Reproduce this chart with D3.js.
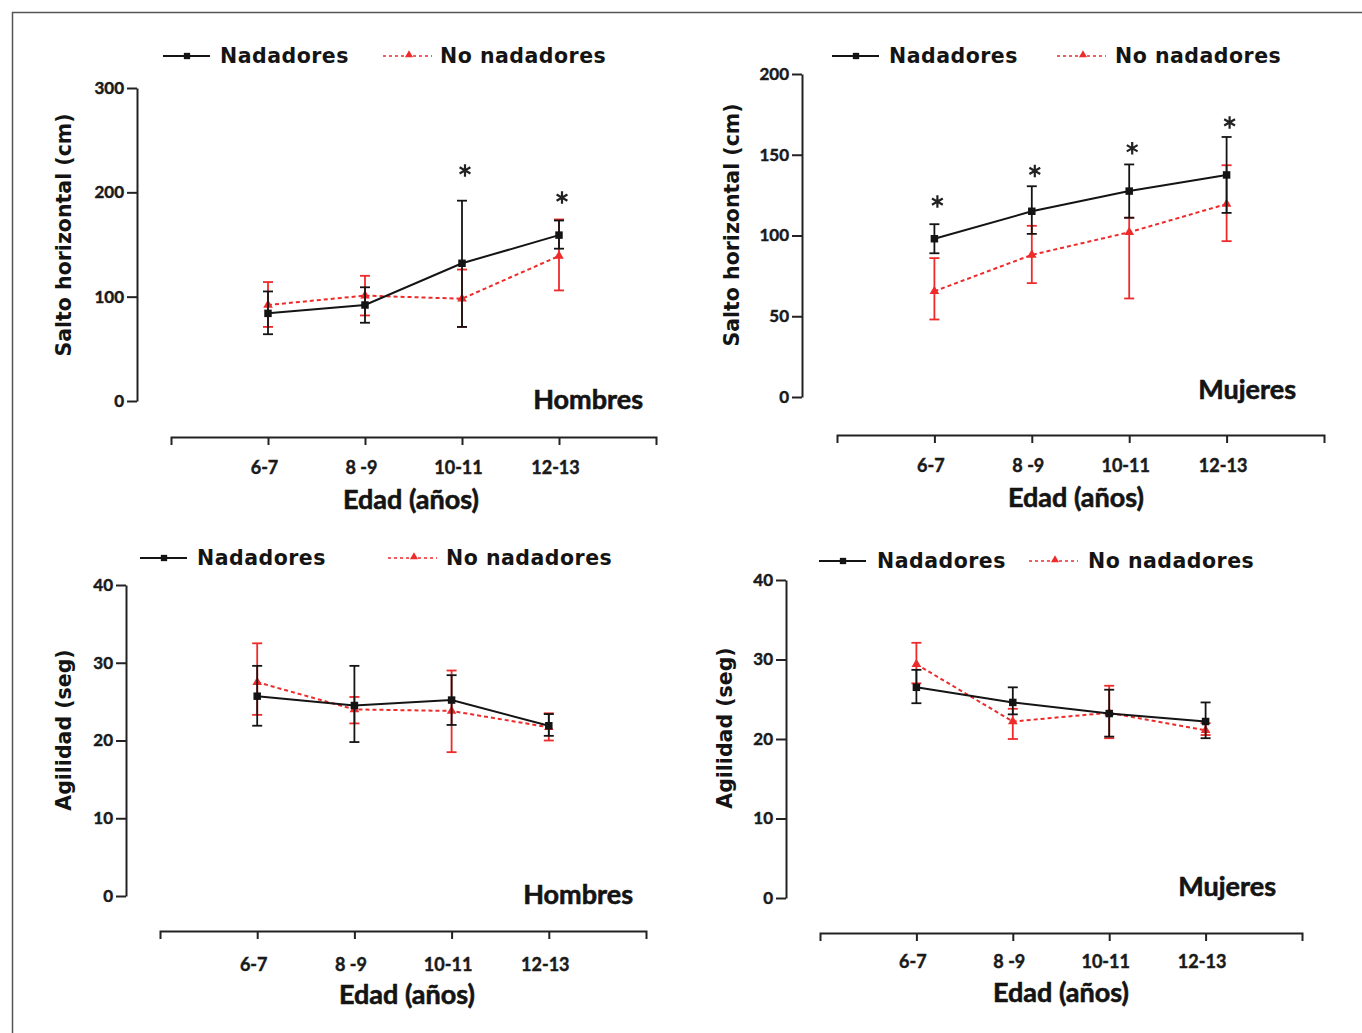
<!DOCTYPE html>
<html>
<head>
<meta charset="utf-8">
<script src="https://cdn.jsdelivr.net/npm/d3@7/dist/d3.min.js"></script>
<style>
  body { margin: 0; background: #fff; }
  svg { display: block; }
  .tick text { font-family: Lato, "Liberation Sans", sans-serif; font-weight: bold; fill: #1a1a1a; stroke: #1a1a1a; stroke-width: 0.45px; }
  .heavy { stroke: #141414; stroke-width: 0.6px; }
</style>
</head>
<body>
<svg id="chart" width="1362" height="1033"></svg>
<script>
// categories and ticks
var cats = ['6-7', '8 -9', '10-11', '12-13'];
var saltoTicksH = [0, 100, 200, 300];
var saltoTicksM = [0, 50, 100, 150, 200];
var agilTicks = [0, 10, 20, 30, 40];

// Salto horizontal, hombres
var saltoHNad = [84, 92, 132, 159];
var saltoHNadLo = [64, 75, 71, 146];
var saltoHNadHi = [105, 109, 192, 173];
var saltoHNo = [92, 101, 98, 139];
var saltoHNoLo = [71, 82, 71, 106];
var saltoHNoHi = [114, 120, 126, 174];
var saltoHStars = [null, null, 221, 195];

// Salto horizontal, mujeres
var saltoMNad = [98, 115, 127.5, 137.5];
var saltoMNadLo = [89, 101, 111, 114];
var saltoMNadHi = [107, 130.5, 144, 161];
var saltoMNo = [65.5, 88, 102, 119.5];
var saltoMNoLo = [48, 70.5, 61, 96.5];
var saltoMNoHi = [86, 106, 111, 143.5];
var saltoMStars = [121, 140, 154, 170];

// Agilidad, hombres
var agilHNad = [25.7, 24.5, 25.2, 21.9];
var agilHNadLo = [21.9, 19.8, 22.0, 20.6];
var agilHNadHi = [29.6, 29.6, 28.4, 23.4];
var agilHNo = [27.5, 24.0, 23.8, 21.7];
var agilHNoLo = [23.3, 22.2, 18.5, 20.0];
var agilHNoHi = [32.5, 25.6, 29.0, 23.5];

// Agilidad, mujeres
var agilMNad = [26.5, 24.6, 23.2, 22.2];
var agilMNadLo = [24.5, 23.1, 20.3, 20.1];
var agilMNadHi = [28.7, 26.5, 26.2, 24.6];
var agilMNo = [29.4, 22.2, 23.3, 21.1];
var agilMNoLo = [27.0, 20.0, 20.1, 20.5];
var agilMNoHi = [32.1, 23.8, 26.7, 22.0];

var RED = '#ee2a2a';
var INK = '#141414';

function zip(v, lo, hi) {
  return v.map(function(d, i) { return { cat: cats[i], v: d, lo: lo[i], hi: hi[i] }; });
}

var panels = [
  { ticks: saltoTicksH, ymax: 300, ytitle: 'Salto horizontal (cm)', sex: 'Hombres',
    nad: zip(saltoHNad, saltoHNadLo, saltoHNadHi), no: zip(saltoHNo, saltoHNoLo, saltoHNoHi), stars: saltoHStars,
    g: { x0: 171, x1: 656, xAxisY: 437, yAxisX: 137, yTop: 88, yBot: 401, lblOff: 31, titleX: 411, titleY: 500,
         yTitleX: 64, yTitleY: 235, sexX: 643, sexY: 409, legY: 56, leg: [163, 220, 383, 440] } },
  { ticks: saltoTicksM, ymax: 200, ytitle: 'Salto horizontal (cm)', sex: 'Mujeres',
    nad: zip(saltoMNad, saltoMNadLo, saltoMNadHi), no: zip(saltoMNo, saltoMNoLo, saltoMNoHi), stars: saltoMStars,
    g: { x0: 837, x1: 1324, xAxisY: 435, yAxisX: 802, yTop: 74, yBot: 397, lblOff: 31, titleX: 1076, titleY: 498,
         yTitleX: 732, yTitleY: 225, sexX: 1296, sexY: 399, legY: 56, leg: [832, 889, 1057, 1115] } },
  { ticks: agilTicks, ymax: 40, ytitle: 'Agilidad (seg)', sex: 'Hombres',
    nad: zip(agilHNad, agilHNadLo, agilHNadHi), no: zip(agilHNo, agilHNoLo, agilHNoHi), stars: null,
    g: { x0: 160, x1: 646, xAxisY: 931, yAxisX: 126, yTop: 585, yBot: 896, lblOff: 34, titleX: 407, titleY: 995,
         yTitleX: 64, yTitleY: 730, sexX: 633, sexY: 904, legY: 558, leg: [140, 197, 388, 446] } },
  { ticks: agilTicks, ymax: 40, ytitle: 'Agilidad (seg)', sex: 'Mujeres',
    nad: zip(agilMNad, agilMNadLo, agilMNadHi), no: zip(agilMNo, agilMNoLo, agilMNoHi), stars: null,
    g: { x0: 820, x1: 1302, xAxisY: 933, yAxisX: 786, yTop: 580, yBot: 898, lblOff: 29, titleX: 1061, titleY: 993,
         yTitleX: 725, yTitleY: 728, sexX: 1276, sexY: 896, legY: 561, leg: [819, 877, 1029, 1088] } }
];

var svg = d3.select('#chart');

// frame (only left and top edges show in the picture)
svg.append('path')
  .attr('d', 'M12.5,1040 V12.5 H1370')
  .attr('fill', 'none')
  .attr('stroke', '#555')
  .attr('stroke-width', 1.5);

var square = d3.symbol().type(d3.symbolSquare).size(56);
var triangle = d3.symbol().type(d3.symbolTriangle).size(40);
var star = d3.symbol().type(d3.symbolAsterisk).size(110);

panels.forEach(function(p) {
  var g = p.g;
  var x = d3.scalePoint().domain(cats).range([g.x0, g.x1]).padding(1);
  var y = d3.scaleLinear().domain([0, p.ymax]).range([g.yBot, g.yTop]);

  var root = svg.append('g');

  // x axis, offset below the plot
  var xa = root.append('g')
    .attr('transform', 'translate(0,' + g.xAxisY + ')')
    .call(d3.axisBottom(x).tickSize(8).tickSizeOuter(8));
  xa.select('.domain').attr('stroke', '#222').attr('stroke-width', 2);
  xa.selectAll('.tick line').attr('stroke', '#222').attr('stroke-width', 2);
  xa.selectAll('.tick text')
    .attr('y', g.lblOff).attr('dy', '0.35em').attr('dx', -4)
    .style('font-size', '18px');

  // y axis
  var ya = root.append('g')
    .attr('transform', 'translate(' + g.yAxisX + ',0)')
    .call(d3.axisLeft(y).tickValues(p.ticks).tickSize(10).tickSizeOuter(0).tickPadding(3));
  ya.select('.domain').attr('stroke', '#222').attr('stroke-width', 2);
  ya.selectAll('.tick line').attr('stroke', '#222').attr('stroke-width', 2);
  ya.selectAll('.tick text').style('font-size', '17px');

  // titles
  root.append('text')
    .attr('class', 'heavy')
    .attr('x', g.titleX).attr('y', g.titleY).attr('dy', '0.35em')
    .attr('text-anchor', 'middle')
    .style('font-family', 'Lato, "Liberation Sans", sans-serif')
    .style('font-weight', 'bold').style('font-size', '27px').style('fill', INK)
    .text('Edad (años)');

  root.append('text')
    .attr('transform', 'translate(' + g.yTitleX + ',' + g.yTitleY + ') rotate(-90)')
    .attr('dy', '0.35em')
    .attr('text-anchor', 'middle')
    .style('font-family', '"DejaVu Sans", sans-serif')
    .style('font-weight', 'bold').style('font-size', '20.5px').style('fill', INK)
    .text(p.ytitle);

  root.append('text')
    .attr('class', 'heavy')
    .attr('x', g.sexX).attr('y', g.sexY)
    .attr('text-anchor', 'end')
    .style('font-family', 'Lato, "Liberation Sans", sans-serif')
    .style('font-weight', 'bold').style('font-size', '27px').style('fill', INK)
    .text(p.sex);

  // series: red first, black on top
  var series = [
    { data: p.no, color: RED, dash: '4,3', width: 2, sym: triangle },
    { data: p.nad, color: INK, dash: null, width: 2, sym: square }
  ];

  series.forEach(function(s) {
    var eb = root.append('g').selectAll('g')
      .data(s.data).join('g')
      .attr('stroke', s.color).attr('stroke-width', 1.8);
    eb.append('line')
      .attr('x1', function(d) { return x(d.cat); }).attr('x2', function(d) { return x(d.cat); })
      .attr('y1', function(d) { return y(d.lo); }).attr('y2', function(d) { return y(d.hi); });
    eb.append('line')
      .attr('x1', function(d) { return x(d.cat) - 5; }).attr('x2', function(d) { return x(d.cat) + 5; })
      .attr('y1', function(d) { return y(d.lo); }).attr('y2', function(d) { return y(d.lo); });
    eb.append('line')
      .attr('x1', function(d) { return x(d.cat) - 5; }).attr('x2', function(d) { return x(d.cat) + 5; })
      .attr('y1', function(d) { return y(d.hi); }).attr('y2', function(d) { return y(d.hi); });

    root.append('path')
      .datum(s.data)
      .attr('fill', 'none')
      .attr('stroke', s.color)
      .attr('stroke-width', s.width)
      .attr('stroke-dasharray', s.dash)
      .attr('d', d3.line().x(function(d) { return x(d.cat); }).y(function(d) { return y(d.v); }));

    root.append('g').selectAll('path')
      .data(s.data).join('path')
      .attr('transform', function(d) { return 'translate(' + x(d.cat) + ',' + y(d.v) + ')'; })
      .attr('d', s.sym())
      .attr('fill', s.color);
  });

  // significance marks
  if (p.stars) {
    root.append('g').selectAll('path')
      .data(p.stars.map(function(v, i) { return { cat: cats[i], v: v }; }).filter(function(d) { return d.v != null; }))
      .join('path')
      .attr('transform', function(d) { return 'translate(' + (x(d.cat) + 3) + ',' + y(d.v) + ')'; })
      .attr('d', star())
      .attr('fill', 'none')
      .attr('stroke', '#222')
      .attr('stroke-width', 2.2);
  }

  // legend
  var leg = root.append('g')
    .style('font-family', '"DejaVu Sans", sans-serif')
    .style('font-weight', 'bold').style('font-size', '20.5px');
  leg.append('line')
    .attr('x1', g.leg[0]).attr('x2', g.leg[0] + 47)
    .attr('y1', g.legY).attr('y2', g.legY)
    .attr('stroke', INK).attr('stroke-width', 2);
  leg.append('path')
    .attr('transform', 'translate(' + (g.leg[0] + 24) + ',' + g.legY + ')')
    .attr('d', d3.symbol().type(d3.symbolSquare).size(40)())
    .attr('fill', INK);
  leg.append('text')
    .attr('x', g.leg[1]).attr('y', g.legY).attr('dy', '0.36em')
    .style('fill', INK).style('letter-spacing', '0.5px')
    .text('Nadadores');
  leg.append('line')
    .attr('x1', g.leg[2]).attr('x2', g.leg[2] + 49)
    .attr('y1', g.legY).attr('y2', g.legY)
    .attr('stroke', RED).attr('stroke-width', 1.6).attr('stroke-dasharray', '3,3');
  leg.append('path')
    .attr('transform', 'translate(' + (g.leg[2] + 26) + ',' + (g.legY - 1) + ')')
    .attr('d', d3.symbol().type(d3.symbolTriangle).size(28)())
    .attr('fill', RED);
  leg.append('text')
    .attr('x', g.leg[3]).attr('y', g.legY).attr('dy', '0.36em')
    .style('fill', INK).style('letter-spacing', '0.5px')
    .text('No nadadores');
});
</script>
</body>
</html>
